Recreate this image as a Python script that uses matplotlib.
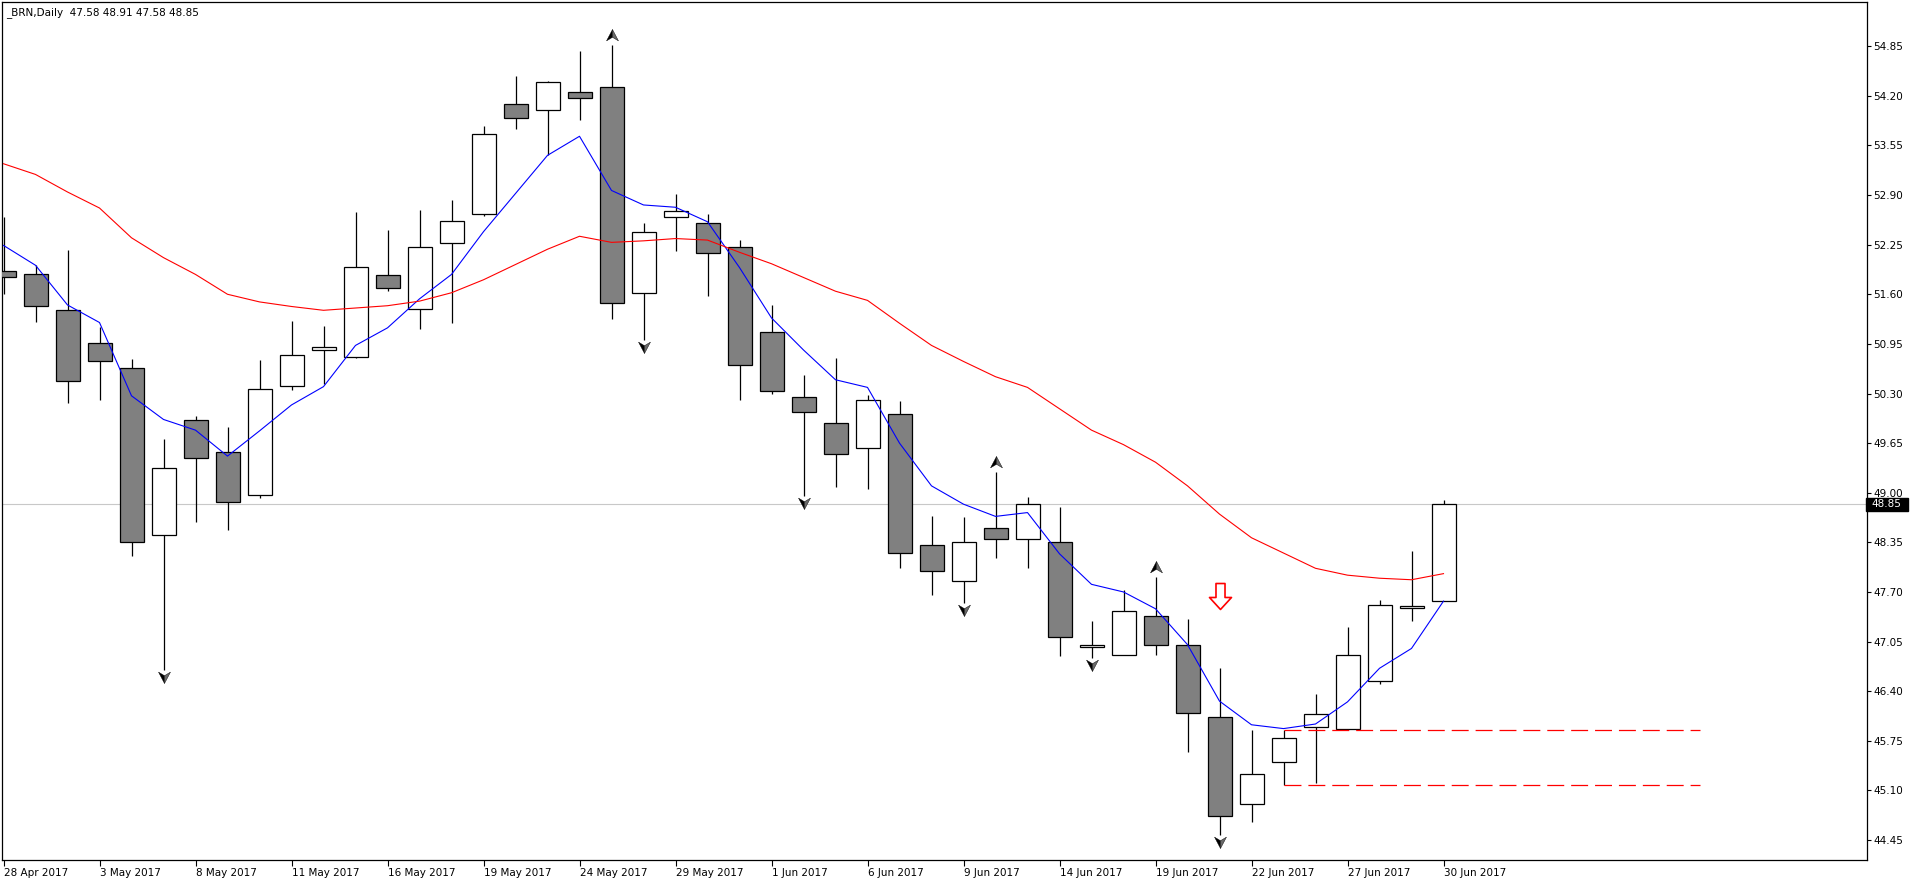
import matplotlib
matplotlib.use('Agg')
import matplotlib.pyplot as plt
import matplotlib.transforms as mtransforms
from matplotlib.path import Path
from matplotlib.patches import Rectangle
import numpy as np

plt.rcParams['font.family'] = ['DejaVu Sans']
plt.rcParams['lines.scale_dashes'] = False

# ---------------- data ----------------
symbol = '_BRN,Daily'
dates = ['28 Apr 2017', '1 May 2017', '2 May 2017', '3 May 2017', '4 May 2017', '5 May 2017',
         '8 May 2017', '9 May 2017', '10 May 2017', '11 May 2017', '12 May 2017', '15 May 2017',
         '16 May 2017', '17 May 2017', '18 May 2017', '19 May 2017', '22 May 2017', '23 May 2017',
         '24 May 2017', '25 May 2017', '26 May 2017', '29 May 2017', '30 May 2017', '31 May 2017',
         '1 Jun 2017', '2 Jun 2017', '5 Jun 2017', '6 Jun 2017', '7 Jun 2017', '8 Jun 2017',
         '9 Jun 2017', '12 Jun 2017', '13 Jun 2017', '14 Jun 2017', '15 Jun 2017', '16 Jun 2017',
         '19 Jun 2017', '20 Jun 2017', '21 Jun 2017', '22 Jun 2017', '23 Jun 2017', '26 Jun 2017',
         '27 Jun 2017', '28 Jun 2017', '29 Jun 2017', '30 Jun 2017']

opens = [51.91, 51.86, 51.40, 50.96, 50.64, 48.45, 49.95, 49.54, 48.97, 50.40, 50.87, 50.78,
         51.85, 51.41, 52.27, 52.65, 54.09, 54.01, 54.25, 54.32, 51.62, 52.61, 52.53, 52.22,
         51.10, 50.26, 49.91, 49.58, 50.03, 48.32, 47.85, 48.54, 48.40, 48.35, 46.98, 46.87,
         47.38, 47.01, 46.06, 44.92, 45.47, 45.93, 45.91, 46.53, 47.49, 47.58]
highs = [52.61, 51.98, 52.18, 51.17, 50.75, 49.70, 50.01, 49.86, 50.74, 51.25, 51.18, 52.68,
         52.44, 52.71, 52.84, 53.81, 54.46, 54.40, 54.79, 54.86, 52.53, 52.91, 52.65, 52.31,
         51.46, 50.54, 50.76, 50.28, 50.20, 48.69, 48.68, 49.27, 48.94, 48.81, 47.32, 47.72,
         47.89, 47.35, 46.71, 45.89, 45.89, 46.36, 47.24, 47.60, 48.24, 48.91]
lows = [51.61, 51.24, 50.17, 50.22, 48.17, 46.68, 48.61, 48.51, 48.93, 50.35, 50.43, 50.77,
        51.64, 51.15, 51.23, 52.63, 53.77, 53.42, 53.88, 51.28, 51.00, 52.17, 51.58, 50.21,
        50.30, 48.96, 49.08, 49.05, 48.02, 47.66, 47.56, 48.14, 48.01, 46.86, 46.83, 46.87,
        46.88, 45.60, 44.51, 44.69, 45.17, 45.20, 45.91, 46.50, 47.32, 47.58]
closes = [51.83, 51.45, 50.47, 50.72, 48.35, 49.33, 49.45, 48.88, 50.36, 50.80, 50.91, 51.96,
          51.68, 52.22, 52.56, 53.70, 53.91, 54.38, 54.17, 51.49, 52.41, 52.69, 52.14, 50.67,
          50.33, 50.06, 49.51, 50.22, 48.21, 47.97, 48.35, 48.40, 48.85, 47.11, 47.00, 47.45,
          47.01, 46.11, 44.77, 45.31, 45.79, 46.10, 46.88, 47.53, 47.51, 48.85]

ma_fast = [52.24, 51.98, 51.46, 51.23, 50.27, 49.96, 49.82, 49.48, 49.81, 50.15, 50.39, 50.93,
           51.16, 51.54, 51.86, 52.42, 52.92, 53.42, 53.67, 52.96, 52.77, 52.74, 52.55, 51.95,
           51.29, 50.87, 50.48, 50.38, 49.65, 49.09, 48.85, 48.69, 48.74, 48.20, 47.80, 47.70,
           47.48, 47.01, 46.27, 45.96, 45.91, 45.97, 46.26, 46.70, 46.96, 47.58]
ma_slow = [53.31, 53.17, 52.94, 52.73, 52.34, 52.08, 51.86, 51.60, 51.50, 51.44, 51.39, 51.42,
           51.45, 51.51, 51.62, 51.79, 51.99, 52.19, 52.36, 52.28, 52.30, 52.33, 52.31, 52.15,
           52.00, 51.82, 51.64, 51.52, 51.22, 50.93, 50.72, 50.52, 50.38, 50.10, 49.82, 49.63,
           49.40, 49.09, 48.72, 48.41, 48.21, 48.01, 47.92, 47.88, 47.86, 47.94]

fractal_up = [19, 31, 36]
fractal_down = [5, 20, 25, 30, 34, 38]

signal_bar = 38
signal_price = 47.65

level_prices = [45.89, 45.17]
level_start = 40
level_end = 53

y_ticks = [44.45, 45.10, 45.75, 46.40, 47.05, 47.70, 48.35, 49.00, 49.65,
           50.30, 50.95, 51.60, 52.25, 52.90, 53.55, 54.20, 54.85]
label_every = 3

# ---------------- figure ----------------
W, H = 1910, 884
fig = plt.figure(figsize=(W / 100, H / 100), dpi=100, facecolor='white')
left_px, right_px, top_px, bottom_px = 2, 1867, 2, 860
ax = fig.add_axes([left_px / W, (H - bottom_px) / H, (right_px - left_px) / W, (bottom_px - top_px) / H])
ax.set_facecolor('white')

n = len(opens)
x = np.arange(n)
o = np.array(opens); h = np.array(highs); l = np.array(lows); c = np.array(closes)
bull = c >= o

# bid line
ax.axhline(c[-1], color='#C8C8C8', lw=0.8, zorder=1)

# wicks + bodies
ax.vlines(x, l, h, color='black', lw=0.9, zorder=2)
ax.bar(x, np.abs(c - o), bottom=np.minimum(o, c), width=0.75,
       color=np.where(bull, 'white', '#808080'), edgecolor='black', linewidth=0.9, zorder=3)

# moving averages
ax.plot(x, ma_fast, color='#0000FF', lw=0.8, zorder=4)
ax.plot(x, ma_slow, color='#FF0000', lw=0.8, zorder=4)

# horizontal dashed levels
ax.hlines(level_prices, level_start, level_end, colors='#FF0000', lw=0.9,
          linestyles=[(0, (12.2, 5.0))], zorder=4)

# fractal arrows
left_half = Path([(0, 0.5), (0, -0.15), (-0.5, -0.45), (0, 0.5)],
                 [Path.MOVETO, Path.LINETO, Path.LINETO, Path.CLOSEPOLY])
right_half = Path([(0, 0.5), (0.5, -0.45), (0, -0.15), (0, 0.5)],
                  [Path.MOVETO, Path.LINETO, Path.LINETO, Path.CLOSEPOLY])
flip = mtransforms.Affine2D().scale(1, -1)
left_half_d = left_half.transformed(flip)
right_half_d = right_half.transformed(flip)

up_tr = mtransforms.offset_copy(ax.transData, fig=fig, x=0, y=10, units='dots')
dn_tr = mtransforms.offset_copy(ax.transData, fig=fig, x=0, y=-7, units='dots')
fx_up = np.array(fractal_up); fx_dn = np.array(fractal_down)
ms_fr = 8.6
ax.plot(fx_up, h[fx_up], ls='none', marker=left_half, ms=ms_fr, mfc='black', mec='black', mew=0.3,
        transform=up_tr, zorder=5, clip_on=False)
ax.plot(fx_up, h[fx_up], ls='none', marker=right_half, ms=ms_fr, mfc='#6a6a6a', mec='black', mew=0.3,
        transform=up_tr, zorder=5, clip_on=False)
ax.plot(fx_dn, l[fx_dn], ls='none', marker=left_half_d, ms=ms_fr, mfc='black', mec='black', mew=0.3,
        transform=dn_tr, zorder=5, clip_on=False)
ax.plot(fx_dn, l[fx_dn], ls='none', marker=right_half_d, ms=ms_fr, mfc='#6a6a6a', mec='black', mew=0.3,
        transform=dn_tr, zorder=5, clip_on=False)

# red hollow down arrow
arrow = Path([(-0.205, 0.59), (0.205, 0.59), (0.205, -0.045), (0.5, -0.045), (0, -0.59),
              (-0.5, -0.045), (-0.205, -0.045), (-0.205, 0.59)],
             [Path.MOVETO] + [Path.LINETO] * 6 + [Path.CLOSEPOLY])
ax.plot([signal_bar], [signal_price], ls='none', marker=arrow, ms=18.7, mfc='white',
        mec='#FF0000', mew=1.2, zorder=6)

# limits (bar spacing 32 px, 76.33 px per price unit)
xmin = -1.5 / 32
ax.set_xlim(xmin, xmin + (right_px - left_px) / 32)
ax.set_ylim(54.85 - (bottom_px - 46.2) / 76.33, 54.85 + (46.2 - top_px) / 76.33)

# axes styling
for s in ax.spines.values():
    s.set_color('black'); s.set_linewidth(0.9)
ax.yaxis.tick_right()
ax.set_yticks(y_ticks)
ax.set_yticklabels([f'{v:.2f}' for v in y_ticks])
ax.tick_params(axis='y', which='both', direction='out', length=3, width=0.8, pad=1.5,
               labelsize=7.5, right=True, left=False, colors='black')
tick_pos = x[::label_every]
ax.set_xticks(tick_pos)
ax.set_xticklabels([dates[i] for i in tick_pos])
ax.tick_params(axis='x', direction='out', length=4, width=0.8, pad=2, labelsize=7.5, colors='black')
for lab in ax.get_xticklabels():
    lab.set_horizontalalignment('left')

# current price box on the right scale
bt = mtransforms.blended_transform_factory(ax.transAxes, ax.transData)
axw = right_px - left_px
box_h = 13 / 76.33
ax.add_patch(Rectangle((1.0 - 1 / axw, c[-1] - box_h / 2), 42 / axw, box_h, transform=bt,
                       facecolor='black', edgecolor='black', clip_on=False, zorder=8))
ax.text(1.0 + 4 / axw, c[-1], f'{c[-1]:.2f}', transform=bt, color='white', fontsize=7.5,
        va='center', ha='left', clip_on=False, zorder=9)

# header
fig.text(6 / W, 1 - 13 / H, f'{symbol}  {o[-1]:.2f} {h[-1]:.2f} {l[-1]:.2f} {c[-1]:.2f}',
         fontsize=7.5, va='center', ha='left', color='black')

fig.savefig('out.png', dpi=100, facecolor='white')
